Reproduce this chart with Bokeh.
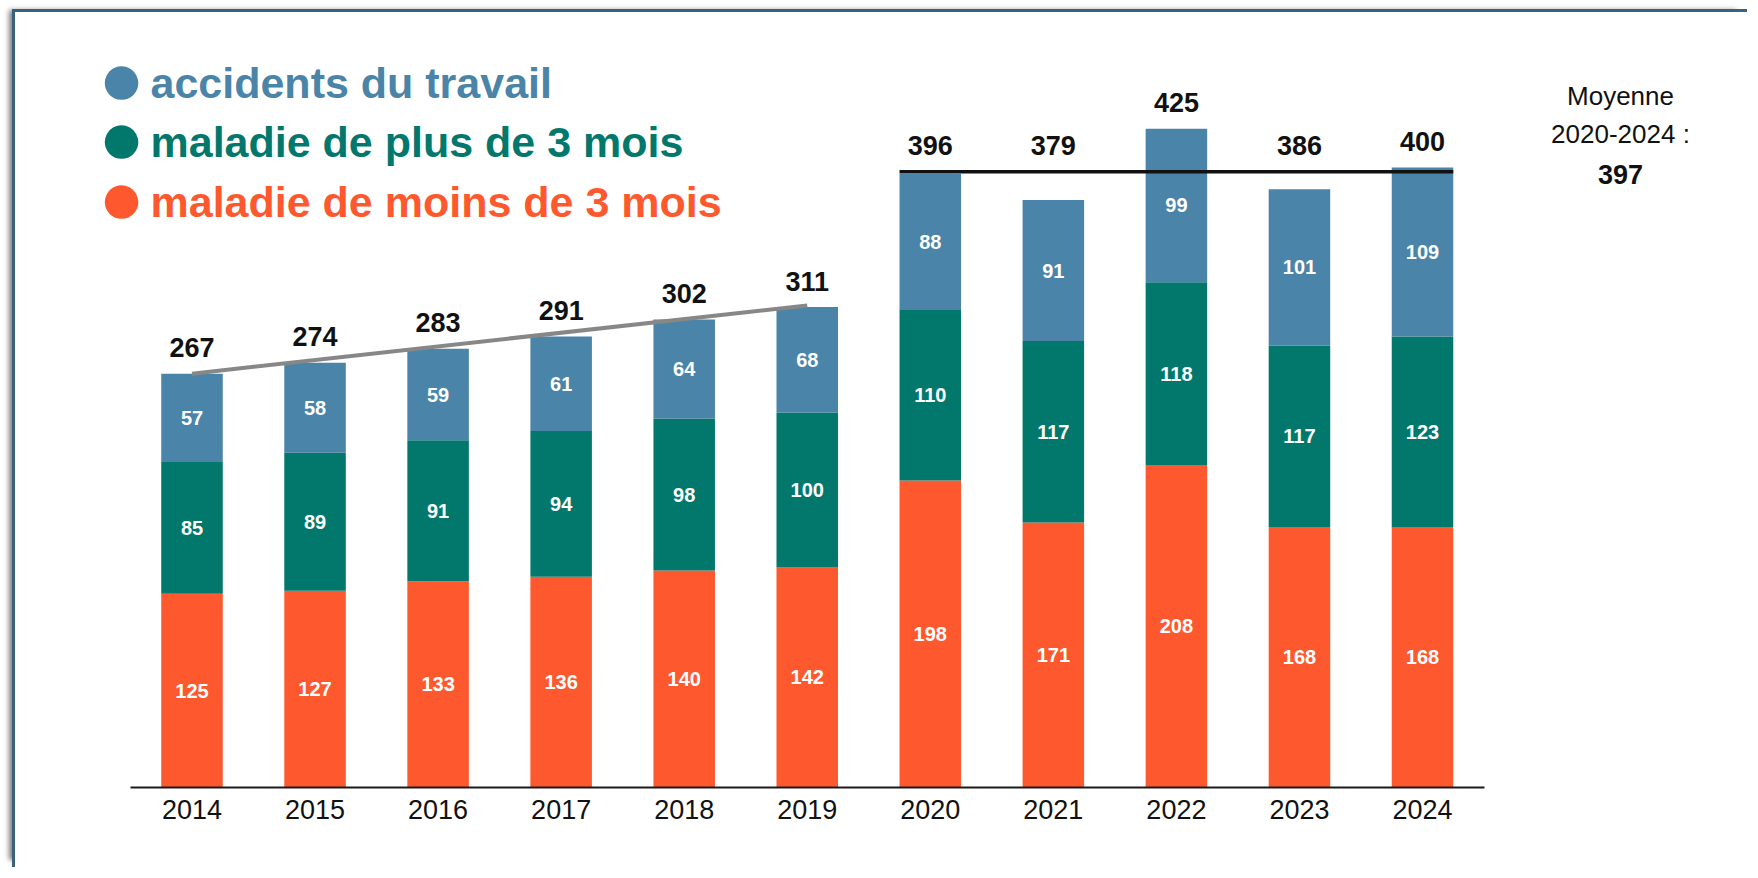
from bokeh.plotting import figure
from bokeh.models import ColumnDataSource, Range1d, Label, FixedTicker
from bokeh.embed import file_html
from bokeh.resources import INLINE
from bokeh.core.properties import value
import pandas as pd

# ---- data ----
years = ["2014", "2015", "2016", "2017", "2018", "2019", "2020", "2021", "2022", "2023", "2024"]
maladie_moins = [125, 127, 133, 136, 140, 142, 198, 171, 208, 168, 168]
maladie_plus = [85, 89, 91, 94, 98, 100, 110, 117, 118, 117, 123]
accidents = [57, 58, 59, 61, 64, 68, 88, 91, 99, 101, 109]
totals = [267, 274, 283, 291, 302, 311, 396, 379, 425, 386, 400]
series_labels = ["accidents du travail", "maladie de plus de 3 mois", "maladie de moins de 3 mois"]
avg_years = ["2020", "2024"]

# ---- styles ----
C_ACC = "#4A84A8"
C_PLUS = "#02786D"
C_MOINS = "#FE592E"
FONT = "Liberation Sans"

i0, i1 = years.index(avg_years[0]), years.index(avg_years[1])
avg = sum(totals[i0:i1 + 1]) / (i1 - i0 + 1)

xpos = list(range(len(years)))
df = pd.DataFrame({"x": xpos, "year": years, "moins": maladie_moins,
                   "plus": maladie_plus, "acc": accidents})
df["moins_mid"] = df["moins"] / 2
df["plus_mid"] = df["moins"] + df["plus"] / 2
df["acc_mid"] = df["moins"] + df["plus"] + df["acc"] / 2
df["top"] = df["moins"] + df["plus"] + df["acc"]
# totals in the averaged period sit above the average line
df["label_y"] = [max(t, avg) if i0 <= i <= i1 else t for i, t in enumerate(df["top"])]
df["moins_lbl"] = df["moins"].astype(str)
df["plus_lbl"] = df["plus"].astype(str)
df["acc_lbl"] = df["acc"].astype(str)
df["total_lbl"] = [str(t) for t in totals]
src = ColumnDataSource(df)

W, H = 1735, 858
px_per_cat = 123.05
x_start = -176.5 / px_per_cat
x_end = x_start + W / px_per_cat

p = figure(x_range=Range1d(x_start, x_end), y_range=Range1d(0, 500),
           width=W, height=H, output_backend="svg", toolbar_location=None,
           min_border_left=0, min_border_right=0, min_border_top=0, min_border_bottom=H - 775)
p.styles = {"margin-left": "12px", "margin-top": "9px",
            "border-left": "3px solid #3B6180", "border-top": "3px solid #3B6180",
            "box-shadow": "-7px -3px 5px -4px rgba(0,0,0,0.5)"}
p.outline_line_color = None
p.xgrid.grid_line_color = None
p.ygrid.grid_line_color = None
p.yaxis.visible = False
p.xaxis.ticker = FixedTicker(ticks=xpos)
p.xaxis.major_label_overrides = {i: y for i, y in zip(xpos, years)}
p.xaxis.bounds = (xpos[0] - 0.5, xpos[-1] + 0.5)
p.xaxis.axis_line_color = "#1a1a1a"
p.xaxis.axis_line_width = 2
p.xaxis.major_tick_line_color = None
p.xaxis.minor_tick_line_color = None
p.xaxis.major_label_text_font = FONT
p.xaxis.major_label_text_font_size = "27px"
p.xaxis.major_label_text_color = "#111111"
p.xaxis.major_label_standoff = 6

p.vbar_stack(["moins", "plus", "acc"], x="x", width=0.5, source=src,
             fill_color=[C_MOINS, C_PLUS, C_ACC], line_color=None)

for col in ["moins", "plus", "acc"]:
    p.text(x="x", y=col + "_mid", text=col + "_lbl", source=src, text_color="white",
           text_font=value(FONT), text_font_style="bold", text_font_size="20px",
           text_align="center", text_baseline="middle")

p.text(x="x", y="label_y", text="total_lbl", source=src, text_color="#111111",
       text_font=value(FONT), text_font_style="bold", text_font_size="27px",
       text_align="center", text_baseline="alphabetic", y_offset=-26)

# trend line 2014 -> 2019
p.line(x=[xpos[0], xpos[5]], y=[totals[0], totals[5]], line_color="#878787", line_width=4)

# average line 2020-2024
p.segment(x0=[xpos[i0] - 0.25], y0=[avg], x1=[xpos[i1] + 0.25], y1=[avg],
          line_color="#111111", line_width=3.5)

# legend (custom, colored labels)
leg_colors = [C_ACC, C_PLUS, C_MOINS]
leg_y = [705, 646, 586]
for lbl, c, yy in zip(series_labels, leg_colors, leg_y):
    p.add_layout(Label(x=106, y=yy + 5, x_units="screen", y_units="screen", text="●",
                       text_color=c, text_font=FONT, text_font_size="78px",
                       text_align="center", text_baseline="middle"))
    p.add_layout(Label(x=135, y=yy, x_units="screen", y_units="screen", text=lbl,
                       text_color=c, text_font=FONT, text_font_style="bold",
                       text_font_size="43px", text_align="left", text_baseline="middle"))

# average annotation
p.add_layout(Label(x=1605, y=692, x_units="screen", y_units="screen", text="Moyenne",
                   text_color="#111111", text_font=FONT, text_font_size="26px",
                   text_align="center", text_baseline="middle"))
p.add_layout(Label(x=1605, y=654, x_units="screen", y_units="screen",
                   text=f"{avg_years[0]}-{avg_years[1]} :",
                   text_color="#111111", text_font=FONT, text_font_size="26px",
                   text_align="center", text_baseline="middle"))
p.add_layout(Label(x=1605, y=613, x_units="screen", y_units="screen", text=f"{round(avg)}",
                   text_color="#111111", text_font=FONT, text_font_style="bold",
                   text_font_size="27px", text_align="center", text_baseline="middle"))

open("out.html", "w").write(file_html(p, INLINE))
